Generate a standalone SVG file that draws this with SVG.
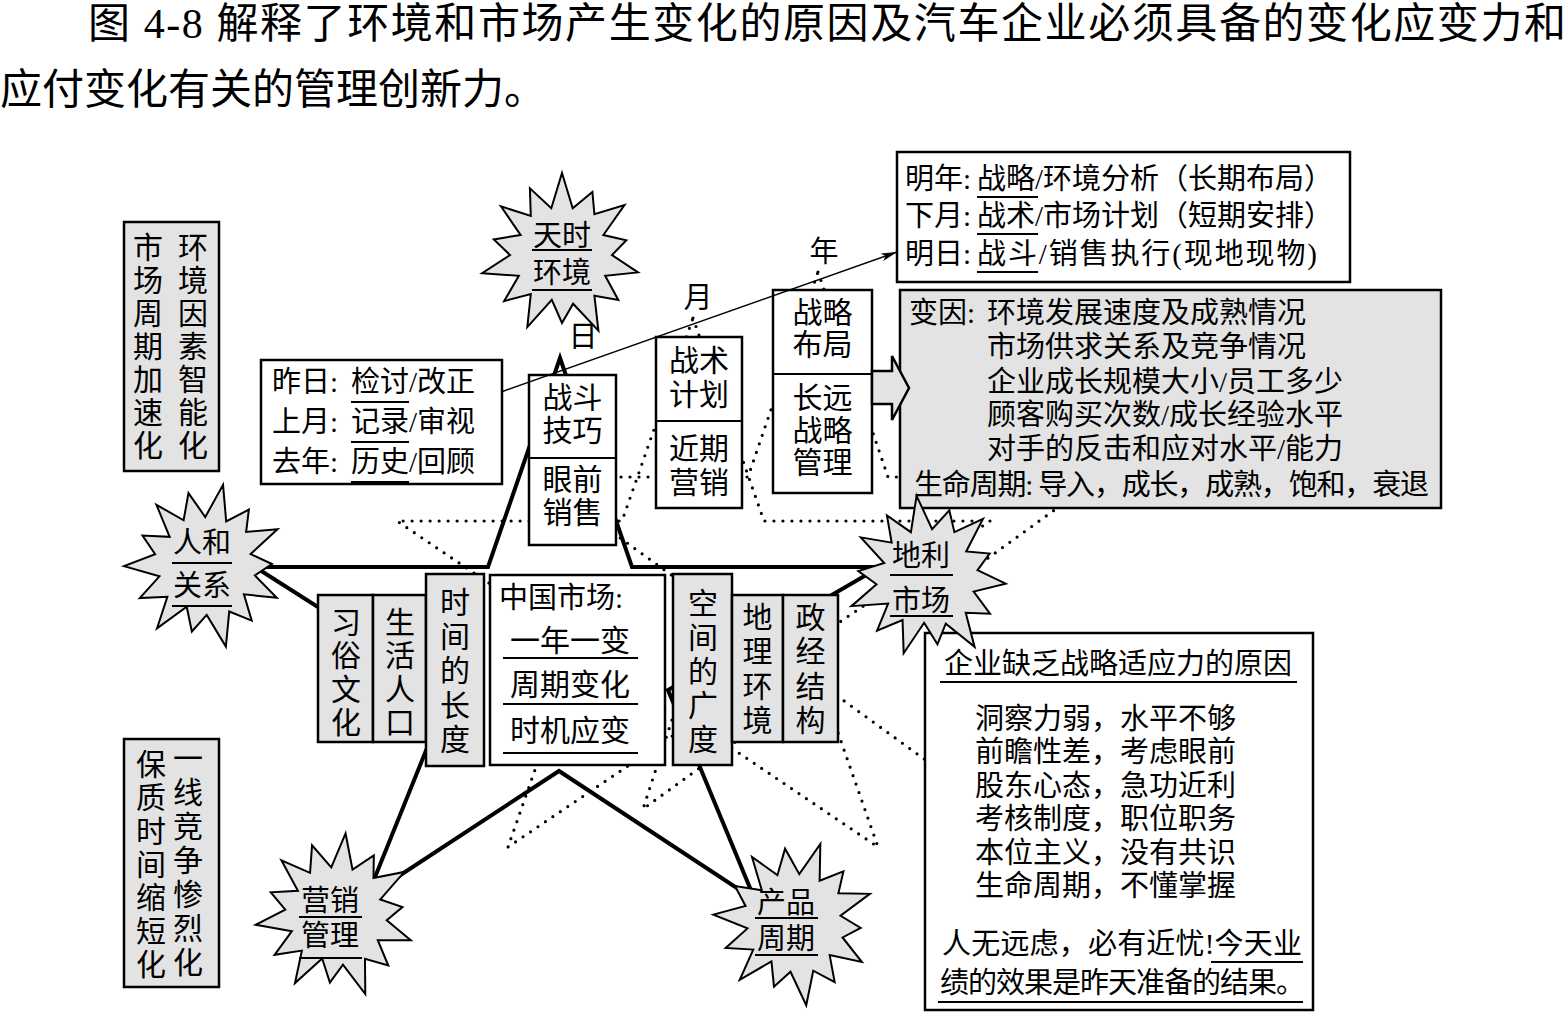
<svg xmlns="http://www.w3.org/2000/svg" width="1566" height="1014" viewBox="0 0 1566 1014">
<style>
text{font-family:"Liberation Serif","Noto Sans CJK SC",serif;fill:#000}
.t42{font-size:42px}
.t29{font-size:29px}
.t30{font-size:30px}
.c{text-anchor:middle}
.bw{fill:#fff;stroke:#000;stroke-width:2.5}
.bg{fill:#e3e3e3;stroke:#000;stroke-width:2.5}
.ul{stroke:#000;stroke-width:2}
.dot{fill:none;stroke:#000;stroke-width:3.2;stroke-dasharray:0 9;stroke-linecap:round}
.penta{fill:none;stroke:#000;stroke-width:4;stroke-linejoin:miter;stroke-miterlimit:10}
.star{fill:#e3e3e3;stroke:#000;stroke-width:2;stroke-linejoin:miter}
</style>
<defs>
<polygon id="sp" points="0,-82 10.7,-46.8 30.4,-63.1 32.4,-40.7 62.5,-49.9 41.4,-20 64.3,-14.7 50,0 76,17.4 43.2,20.8 56.3,44.9 32.4,40.7 36.4,75.7 11.1,48.7 0,68 -10.2,44.8 -34.7,72.1 -31.2,39.1 -57.9,46.1 -43.2,20.8 -79.9,18.2 -52,0 -68.2,-15.6 -41.4,-20 -61,-48.6 -31.2,-39.1 -32.1,-66.7 -10.7,-46.8"/>
<marker id="ah" viewBox="0 0 16 8" refX="16" refY="4" markerWidth="16" markerHeight="8" markerUnits="userSpaceOnUse" orient="auto"><path d="M0,0 L16,4 L0,8 L4,4 z" fill="#000"/></marker>
</defs>

<g id="title">
<text class="t42" x="88" y="38" textLength="1478" lengthAdjust="spacing">图 4-8 解释了环境和市场产生变化的原因及汽车企业必须具备的变化应变力和</text>
<text class="t42" x="0" y="104">应付变化有关的管理创新力。</text>
</g>

<g id="connectors-back">
<polygon class="dot" points="818,272 888,477 1100,477 926,603 993,809 818,682 643,809 710,603 536,477 748,477"/>
<polygon class="dot" points="693,318 764,521 990,521 807,644 878,847 693,722 508,847 579,644 397,521 622,521"/>
<polygon class="penta" points="560,358 632,567 880,567 668,690 755,900 559,771 367,897 450,691 255,567 488,567"/>
</g>

<g id="box-left-top">
<rect class="bg" x="124" y="222" width="95" height="249"/>
<text class="t30 c"><tspan x="148" y="258">市</tspan><tspan x="148" y="291">场</tspan><tspan x="148" y="324">周</tspan><tspan x="148" y="357">期</tspan><tspan x="148" y="390">加</tspan><tspan x="148" y="423">速</tspan><tspan x="148" y="456">化</tspan></text>
<text class="t30 c"><tspan x="193" y="258">环</tspan><tspan x="193" y="291">境</tspan><tspan x="193" y="324">因</tspan><tspan x="193" y="357">素</tspan><tspan x="193" y="390">智</tspan><tspan x="193" y="423">能</tspan><tspan x="193" y="456">化</tspan></text>
</g>

<g id="box-left-bottom">
<rect class="bg" x="124" y="739" width="95" height="248"/>
<text class="t30 c"><tspan x="151" y="775">保</tspan><tspan x="151" y="808">质</tspan><tspan x="151" y="842">时</tspan><tspan x="151" y="875">间</tspan><tspan x="151" y="908">缩</tspan><tspan x="151" y="942">短</tspan><tspan x="151" y="975">化</tspan></text>
<text class="t30 c"><tspan x="188" y="769">一</tspan><tspan x="188" y="803">线</tspan><tspan x="188" y="837">竞</tspan><tspan x="188" y="871">争</tspan><tspan x="188" y="905">惨</tspan><tspan x="188" y="939">烈</tspan><tspan x="188" y="973">化</tspan></text>
</g>

<g id="box-past">
<rect class="bw" x="261" y="360" width="241" height="124"/>
<text class="t29" x="272" y="392">昨日:</text><text class="t29" x="351" y="392">检讨/改正</text>
<text class="t29" x="272" y="432">上月:</text><text class="t29" x="351" y="432">记录/审视</text>
<text class="t29" x="272" y="472">去年:</text><text class="t29" x="351" y="472">历史/回顾</text>
<line class="ul" x1="351" y1="402" x2="409" y2="402"/>
<line class="ul" x1="351" y1="442" x2="409" y2="442"/>
<line class="ul" x1="351" y1="482" x2="409" y2="482"/>
</g>

<g id="box-day">
<rect class="bw" x="529" y="375" width="87" height="170"/>
<line class="ul" x1="529" y1="458" x2="616" y2="458" stroke-width="2.5"/>
<text class="t30 c" x="572.5" y="408">战斗</text>
<text class="t30 c" x="572.5" y="441">技巧</text>
<text class="t30 c" x="572.5" y="490">眼前</text>
<text class="t30 c" x="572.5" y="523">销售</text>
</g>

<g id="box-month">
<rect class="bw" x="656" y="337" width="86" height="171"/>
<line class="ul" x1="656" y1="421" x2="742" y2="421" stroke-width="2.5"/>
<text class="t30 c" x="699" y="371">战术</text>
<text class="t30 c" x="699" y="405">计划</text>
<text class="t30 c" x="699" y="459">近期</text>
<text class="t30 c" x="699" y="493">营销</text>
</g>

<g id="box-year">
<rect class="bw" x="773" y="290" width="99" height="203"/>
<line class="ul" x1="773" y1="374" x2="872" y2="374" stroke-width="2.5"/>
<text class="t30 c" x="822.5" y="323">战略</text>
<text class="t30 c" x="822.5" y="355">布局</text>
<text class="t30 c" x="822.5" y="408">长远</text>
<text class="t30 c" x="822.5" y="441">战略</text>
<text class="t30 c" x="822.5" y="473">管理</text>
</g>

<g id="labels-time">
<text class="t29 c" x="583" y="347">日</text>
<text class="t29 c" x="698" y="308">月</text>
<text class="t29 c" x="824" y="262">年</text>
</g>

<g id="box-future">
<rect class="bw" x="897" y="152" width="453" height="130"/>
<text class="t29" x="905" y="189">明年:</text><text class="t29" x="977" y="189">战略/环境分析（长期布局）</text>
<text class="t29" x="905" y="226">下月:</text><text class="t29" x="977" y="226">战术/市场计划（短期安排）</text>
<text class="t29" x="905" y="264">明日:</text><text class="t29" x="977" y="264" textLength="340" lengthAdjust="spacing">战斗/销售执行(现地现物)</text>
<line class="ul" x1="977" y1="197" x2="1038" y2="197"/>
<line class="ul" x1="977" y1="234" x2="1038" y2="234"/>
<line class="ul" x1="977" y1="272" x2="1038" y2="272"/>
</g>

<g id="box-factors">
<rect class="bg" x="900" y="290" width="541" height="218"/>
<text class="t29" x="909" y="323">变因:</text>
<text class="t29" x="987" y="323">环境发展速度及成熟情况</text>
<text class="t29" x="987" y="357">市场供求关系及竞争情况</text>
<text class="t29" x="987" y="392">企业成长规模大小/员工多少</text>
<text class="t29" x="987" y="425">顾客购买次数/成长经验水平</text>
<text class="t29" x="987" y="459">对手的反击和应对水平/能力</text>
<text class="t29" x="914" y="495" textLength="515" lengthAdjust="spacing">生命周期: 导入，成长，成熟，饱和，衰退</text>
</g>

<g id="arrow-block">
<polygon fill="#e3e3e3" stroke="#000" stroke-width="2.5" points="872,371 892,371 892,356 909,388 892,420 892,404 872,404"/>
</g>

<g id="box-custom">
<rect class="bg" x="318" y="595" width="55" height="147"/>
<text class="t30 c"><tspan x="346" y="633">习</tspan><tspan x="346" y="666">俗</tspan><tspan x="346" y="700">文</tspan><tspan x="346" y="733">化</tspan></text>
</g>
<g id="box-population">
<rect class="bg" x="373" y="595" width="53" height="147"/>
<text class="t30 c"><tspan x="400" y="633">生</tspan><tspan x="400" y="666">活</tspan><tspan x="400" y="700">人</tspan><tspan x="400" y="733">口</tspan></text>
</g>
<g id="box-time-length">
<rect class="bg" x="426" y="574" width="58" height="192"/>
<text class="t30 c"><tspan x="455" y="613">时</tspan><tspan x="455" y="647">间</tspan><tspan x="455" y="681">的</tspan><tspan x="455" y="716">长</tspan><tspan x="455" y="750">度</tspan></text>
</g>
<g id="box-china">
<rect class="bw" x="490" y="575" width="175" height="190"/>
<text class="t29" x="499" y="608">中国市场:</text>
<text class="t30 c" x="570" y="651">一年一变</text>
<text class="t30 c" x="570" y="695">周期变化</text>
<text class="t30 c" x="570" y="741">时机应变</text>
<line class="ul" x1="503" y1="658" x2="638" y2="658"/>
<line class="ul" x1="503" y1="704" x2="638" y2="704"/>
<line class="ul" x1="503" y1="753" x2="638" y2="753"/>
</g>
<g id="box-space">
<rect class="bg" x="673" y="574" width="59" height="191"/>
<text class="t30 c"><tspan x="703" y="614">空</tspan><tspan x="703" y="648">间</tspan><tspan x="703" y="682">的</tspan><tspan x="703" y="716">广</tspan><tspan x="703" y="750">度</tspan></text>
</g>
<g id="box-geo">
<rect class="bg" x="732" y="595" width="51" height="147"/>
<text class="t30 c"><tspan x="757.5" y="628">地</tspan><tspan x="757.5" y="662">理</tspan><tspan x="757.5" y="697">环</tspan><tspan x="757.5" y="731">境</tspan></text>
</g>
<g id="box-politics">
<rect class="bg" x="783" y="595" width="55" height="147"/>
<text class="t30 c"><tspan x="810.5" y="628">政</tspan><tspan x="810.5" y="662">经</tspan><tspan x="810.5" y="697">结</tspan><tspan x="810.5" y="731">构</tspan></text>
</g>

<g id="box-reasons">
<rect class="bw" x="925" y="633" width="388" height="377"/>
<text class="t29 c" x="1118" y="674">企业缺乏战略适应力的原因</text>
<line class="ul" x1="940" y1="682" x2="1297" y2="682"/>
<text class="t29" x="975" y="729">洞察力弱，水平不够</text>
<text class="t29" x="975" y="762">前瞻性差，考虑眼前</text>
<text class="t29" x="975" y="796">股东心态，急功近利</text>
<text class="t29" x="975" y="829">考核制度，职位职务</text>
<text class="t29" x="975" y="863">本位主义，没有共识</text>
<text class="t29" x="975" y="896">生命周期，不懂掌握</text>
<text class="t29" x="942" y="954" textLength="360" lengthAdjust="spacing">人无远虑，必有近忧!今天业</text>
<line class="ul" x1="1211" y1="962" x2="1303" y2="962"/>
<text class="t29" x="940" y="993" textLength="365" lengthAdjust="spacing">绩的效果是昨天准备的结果。</text>
<line class="ul" x1="938" y1="1002" x2="1303" y2="1002"/>
</g>

<g id="star-tianshi">
<use href="#sp" class="star" transform="translate(562,255)"/>
<text class="t29 c" x="562" y="246">天时</text>
<text class="t29 c" x="562" y="283">环境</text>
<line class="ul" x1="532" y1="250" x2="592" y2="250"/>
<line class="ul" x1="532" y1="290" x2="592" y2="290"/>
</g>
<g id="star-renhe">
<use href="#sp" class="star" transform="translate(206,565) rotate(12)"/>
<text class="t29 c" x="202" y="553">人和</text>
<text class="t29 c" x="202" y="596">关系</text>
<line class="ul" x1="172" y1="563" x2="232" y2="563"/>
<line class="ul" x1="172" y1="606" x2="232" y2="606"/>
</g>
<g id="star-dili">
<use href="#sp" class="star" transform="translate(928,577) rotate(-8)"/>
<text class="t29 c" x="921" y="566">地利</text>
<text class="t29 c" x="921" y="611">市场</text>
<line class="ul" x1="890" y1="575" x2="953" y2="575"/>
<line class="ul" x1="890" y1="616" x2="953" y2="616"/>
</g>
<g id="star-marketing">
<use href="#sp" class="star" transform="translate(337,915) rotate(6)"/>
<text class="t29 c" x="330" y="911">营销</text>
<text class="t29 c" x="330" y="946">管理</text>
<line class="ul" x1="299" y1="917" x2="362" y2="917"/>
<line class="ul" x1="299" y1="958" x2="362" y2="958"/>
</g>
<g id="star-product">
<use href="#sp" class="star" transform="translate(795,922) rotate(18)"/>
<text class="t29 c" x="786" y="913">产品</text>
<text class="t29 c" x="786" y="949">周期</text>
<line class="ul" x1="755" y1="918" x2="818" y2="918"/>
<line class="ul" x1="755" y1="955" x2="818" y2="955"/>
</g>

<g id="connectors-front">
<line x1="501" y1="392" x2="897" y2="252" stroke="#000" stroke-width="1.5" marker-end="url(#ah)"/>
</g>
</svg>
